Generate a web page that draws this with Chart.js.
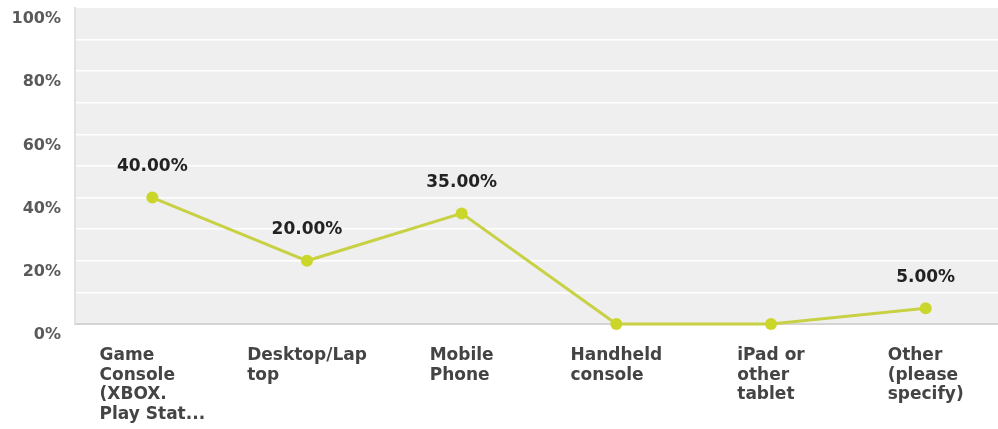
<!DOCTYPE html>
<html>
<head>
<meta charset="utf-8">
<script src="https://cdn.jsdelivr.net/npm/chart.js@4"></script>
<style>
  html, body { margin: 0; padding: 0; background: #fff; overflow: hidden; }
  #wrap { width: 1009px; height: 429px; position: relative; }
</style>
</head>
<body>
<div id="wrap"><canvas id="c"></canvas></div>
<script>
const categories = [
  ["Game", "Console", "(XBOX.", "Play Stat..."],
  ["Desktop/Lap", "top"],
  ["Mobile", "Phone"],
  ["Handheld", "console"],
  ["iPad or", "other", "tablet"],
  ["Other", "(please", "specify)"]
];
const values = [40, 20, 35, 0, 0, 5];
const yTickLabels = { 0: "0%", 20: "20%", 40: "40%", 60: "60%", 80: "80%", 100: "100%" };

const bgPlugin = {
  id: 'plotBg',
  beforeDraw(chart) {
    const { ctx, chartArea: a } = chart;
    ctx.save();
    ctx.fillStyle = '#efefef';
    ctx.fillRect(a.left, a.top, a.right - a.left, a.bottom - a.top);
    ctx.restore();
  }
};

const labelsPlugin = {
  id: 'customLabels',
  afterDatasetsDraw(chart) {
    const { ctx, chartArea: a } = chart;
    const xScale = chart.scales.x;
    ctx.save();
    ctx.font = 'bold 17px "DejaVu Sans"';
    ctx.fillStyle = '#444444';
    ctx.textBaseline = 'middle';
    ctx.textAlign = 'left';
    categories.forEach((lines, i) => {
      const cx = xScale.getPixelForValue(i);
      const w = Math.max(...lines.map(l => ctx.measureText(l).width));
      lines.forEach((l, k) => {
        ctx.fillText(l, cx - w / 2, a.bottom + 32 + k * 19.5);
      });
    });
    const meta = chart.getDatasetMeta(0);
    ctx.font = 'bold 17px "DejaVu Sans"';
    ctx.fillStyle = '#222';
    ctx.textAlign = 'center';
    meta.data.forEach((pt, i) => {
      if (values[i] === 0) return;
      ctx.fillText(values[i].toFixed(2) + '%', pt.x, pt.y - 31);
    });
    ctx.restore();
  }
};

new Chart(document.getElementById('c'), {
  type: 'line',
  data: {
    labels: categories,
    datasets: [{
      data: values,
      borderColor: '#c8d144',
      backgroundColor: '#cbd62a',
      borderWidth: 3,
      pointRadius: 6,
      pointHoverRadius: 6,
      pointBorderWidth: 0,
      tension: 0,
      clip: false
    }]
  },
  options: {
    responsive: true,
    maintainAspectRatio: false,
    animation: false,
    events: [],
    layout: { padding: { top: 8, right: 0, bottom: 105, left: 0 } },
    plugins: { legend: { display: false }, tooltip: { enabled: false } },
    scales: {
      x: {
        offset: true,
        grid: { display: false, drawTicks: false },
        border: { display: true, color: '#d4d4d4', width: 2 },
        ticks: { display: false }
      },
      y: {
        min: 0,
        max: 100,
        afterFit(scale) {
          scale.width = 75;
          scale.paddingTop = 0;
          scale.paddingBottom = 0;
        },
        grid: {
          drawTicks: false,
          lineWidth: 1.5,
          color: (c) => (c.tick && (c.tick.value === 100 || c.tick.value === 0)) ? 'rgba(0,0,0,0)' : '#ffffff'
        },
        border: { display: true, color: '#e2e2e2', width: 2 },
        ticks: {
          stepSize: 10,
          padding: 14,
          labelOffset: 11,
          autoSkip: false,
          color: '#5a5a5a',
          font: { family: '"DejaVu Sans"', weight: 'bold', size: 16 },
          callback: (v) => yTickLabels[v] !== undefined ? yTickLabels[v] : ''
        }
      }
    }
  },
  plugins: [bgPlugin, labelsPlugin]
});
</script>
</body>
</html>
